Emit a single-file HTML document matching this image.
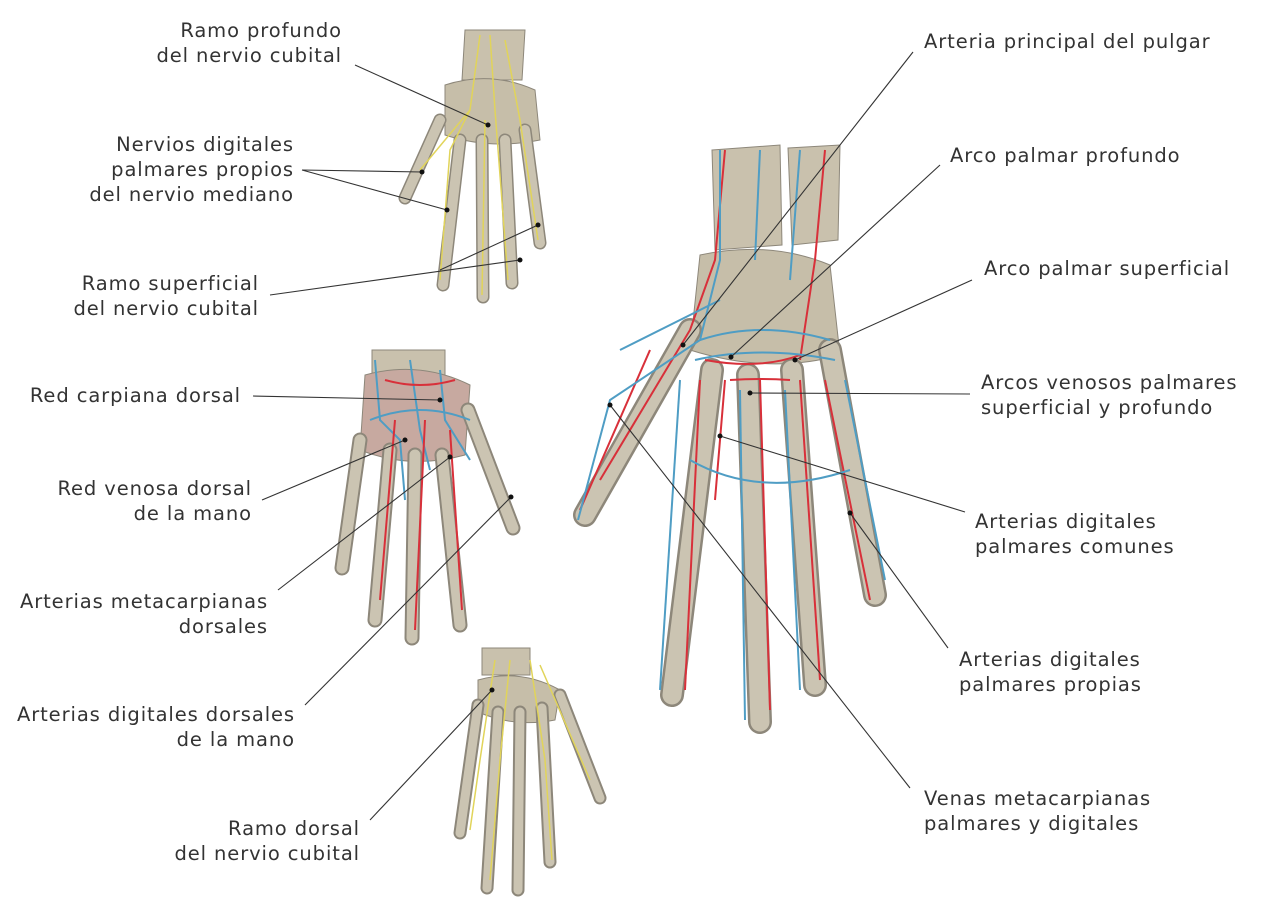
<!DOCTYPE html>
<html><head><meta charset="utf-8"><style>
html,body{margin:0;padding:0;background:#fff;}
svg{display:block}
text{font-family:"DejaVu Sans","Liberation Sans",sans-serif;font-size:19.5px;letter-spacing:0.9px;fill:#333;}
.r{text-anchor:end}
.ld{stroke:#333;stroke-width:1.1;fill:none}
.b{stroke:#cbc4b2;stroke-linecap:round;fill:none}
.bo{stroke:#8d877a;stroke-linecap:round;fill:none}
.a{stroke:#d8303a;fill:none;stroke-width:2}
.v{stroke:#4f9dc4;fill:none;stroke-width:2}
.n{stroke:#e1d45a;fill:none;stroke-width:1.5}
</style></head><body>
<svg width="1270" height="910" viewBox="0 0 1270 910">

<!-- TOP HAND -->
<g>
<path d="M465 30 L525 30 L522 80 L462 80 Z" fill="#c9c1ad" stroke="#8d877a"/>
<path d="M445 85 Q490 70 535 90 L540 140 Q490 150 445 135 Z" fill="#c6bea9" stroke="#8d877a"/>
<g class="bo" stroke-width="13">
<line x1="440" y1="120" x2="405" y2="198"/><line x1="460" y1="140" x2="443" y2="285"/><line x1="482" y1="140" x2="483" y2="297"/><line x1="505" y1="140" x2="512" y2="283"/><line x1="525" y1="130" x2="540" y2="243"/>
</g>
<g class="b" stroke-width="10">
<line x1="440" y1="120" x2="405" y2="198"/><line x1="460" y1="140" x2="443" y2="285"/><line x1="482" y1="140" x2="483" y2="297"/><line x1="505" y1="140" x2="512" y2="283"/><line x1="525" y1="130" x2="540" y2="243"/>
</g>
<g class="n"><path d="M480 35 L470 110 L450 150 L440 280"/><path d="M490 35 L495 110 L508 280"/><path d="M505 40 L520 120 L538 240"/><path d="M470 110 L420 170"/><path d="M485 120 L482 295"/></g>
</g>

<!-- MIDDLE LEFT HAND -->
<g>
<path d="M372 350 L445 350 L445 375 L372 375 Z" fill="#c9c1ad" stroke="#8d877a"/>
<path d="M365 375 Q420 360 470 385 L465 455 Q410 470 360 450 Z" fill="#c7a9a0" stroke="#8d877a"/>
<g class="bo" stroke-width="15">
<line x1="360" y1="440" x2="342" y2="568"/><line x1="390" y1="450" x2="375" y2="620"/><line x1="415" y1="455" x2="412" y2="638"/><line x1="442" y1="455" x2="460" y2="625"/><line x1="468" y1="410" x2="513" y2="528"/>
</g>
<g class="b" stroke-width="11">
<line x1="360" y1="440" x2="342" y2="568"/><line x1="390" y1="450" x2="375" y2="620"/><line x1="415" y1="455" x2="412" y2="638"/><line x1="442" y1="455" x2="460" y2="625"/><line x1="468" y1="410" x2="513" y2="528"/>
</g>
<g class="v" stroke-width="1.5"><path d="M375 360 L380 420 L400 440 L405 500"/><path d="M410 360 L420 430 L430 470"/><path d="M440 370 L445 420 L470 460"/><path d="M370 420 Q420 400 470 420"/></g>
<g class="a" stroke-width="1.2"><path d="M385 380 Q420 390 455 380"/><path d="M395 420 L380 600"/><path d="M425 420 L415 630"/><path d="M450 430 L462 610"/></g>
</g>

<!-- BOTTOM HAND -->
<g>
<path d="M482 648 L530 648 L530 675 L482 675 Z" fill="#c9c1ad" stroke="#8d877a"/>
<path d="M478 680 Q520 668 560 690 L555 720 Q515 728 478 712 Z" fill="#c6bea9" stroke="#8d877a"/>
<g class="bo" stroke-width="13">
<line x1="478" y1="705" x2="460" y2="833"/><line x1="498" y1="712" x2="487" y2="888"/><line x1="520" y1="712" x2="518" y2="890"/><line x1="542" y1="708" x2="550" y2="862"/><line x1="560" y1="695" x2="600" y2="798"/>
</g>
<g class="b" stroke-width="9">
<line x1="478" y1="705" x2="460" y2="833"/><line x1="498" y1="712" x2="487" y2="888"/><line x1="520" y1="712" x2="518" y2="890"/><line x1="542" y1="708" x2="550" y2="862"/><line x1="560" y1="695" x2="600" y2="798"/>
</g>
<g class="n"><path d="M495 660 L480 760 L470 830"/><path d="M510 660 L500 760 L490 880"/><path d="M530 660 L545 760 L552 860"/><path d="M540 665 L590 780"/></g>
</g>

<!-- LARGE HAND -->
<g>
<path d="M712 150 L780 145 L782 245 L715 250 Z" fill="#c9c1ad" stroke="#8d877a"/>
<path d="M788 148 L840 145 L838 240 L792 245 Z" fill="#c9c1ad" stroke="#8d877a"/>
<path d="M700 255 Q770 240 830 265 L840 355 Q770 375 690 350 Z" fill="#c6bea9" stroke="#8d877a"/>
<g class="bo" stroke-width="24">
<line x1="690" y1="330" x2="585" y2="515"/><line x1="712" y1="370" x2="672" y2="695"/><line x1="748" y1="375" x2="760" y2="722"/><line x1="792" y1="370" x2="815" y2="685"/><line x1="830" y1="350" x2="875" y2="595"/>
</g>
<g class="b" stroke-width="19">
<line x1="690" y1="330" x2="585" y2="515"/><line x1="712" y1="370" x2="672" y2="695"/><line x1="748" y1="375" x2="760" y2="722"/><line x1="792" y1="370" x2="815" y2="685"/><line x1="830" y1="350" x2="875" y2="595"/>
</g>
<g class="a"><path d="M725 150 L715 260 L690 330 L600 480"/><path d="M825 150 L815 260 L800 360"/><path d="M705 360 Q760 370 800 355"/><path d="M730 380 Q760 378 790 380"/><path d="M700 380 L685 690"/><path d="M725 380 L715 500"/><path d="M760 380 L770 710"/><path d="M800 380 L820 680"/><path d="M825 380 L870 600"/><path d="M650 350 L580 510"/></g>
<g class="v"><path d="M720 150 L720 260 L700 340 L610 400 L578 520"/><path d="M760 150 L755 260"/><path d="M800 150 L790 280"/><path d="M700 340 Q760 320 830 340"/><path d="M695 360 Q760 345 835 360"/><path d="M680 380 L660 690"/><path d="M740 390 L745 720"/><path d="M785 390 L800 690"/><path d="M845 380 L885 580"/><path d="M690 460 Q760 500 850 470"/><path d="M620 350 L720 300"/></g>
</g>

<!-- LEADER LINES -->
<g class="ld">
<line x1="355" y1="65" x2="488" y2="125"/>
<line x1="302" y1="170" x2="447" y2="210"/>
<line x1="302" y1="170" x2="422" y2="172"/>
<line x1="270" y1="295" x2="520" y2="260"/>
<line x1="440" y1="270" x2="538" y2="225"/>
<line x1="253" y1="396" x2="440" y2="400"/>
<line x1="262" y1="500" x2="405" y2="440"/>
<line x1="278" y1="590" x2="450" y2="457"/>
<line x1="305" y1="705" x2="511" y2="497"/>
<line x1="370" y1="820" x2="492" y2="690"/>
<line x1="913" y1="52" x2="683" y2="345"/>
<line x1="940" y1="165" x2="731" y2="357"/>
<line x1="972" y1="280" x2="795" y2="360"/>
<line x1="970" y1="394" x2="750" y2="393"/>
<line x1="965" y1="512" x2="720" y2="436"/>
<line x1="948" y1="648" x2="850" y2="513"/>
<line x1="910" y1="788" x2="610" y2="405"/>
</g>
<g fill="#111">
<circle cx="488" cy="125" r="2.5"/><circle cx="447" cy="210" r="2.5"/><circle cx="422" cy="172" r="2.5"/><circle cx="520" cy="260" r="2.5"/><circle cx="538" cy="225" r="2.5"/><circle cx="440" cy="400" r="2.5"/><circle cx="405" cy="440" r="2.5"/><circle cx="450" cy="457" r="2.5"/><circle cx="511" cy="497" r="2.5"/><circle cx="492" cy="690" r="2.5"/><circle cx="683" cy="345" r="2.5"/><circle cx="731" cy="357" r="2.5"/><circle cx="795" cy="360" r="2.5"/><circle cx="750" cy="393" r="2.5"/><circle cx="720" cy="436" r="2.5"/><circle cx="850" cy="513" r="2.5"/><circle cx="610" cy="405" r="2.5"/>
</g>

<!-- LABELS -->
<text class="r" x="342" y="37">Ramo profundo</text>
<text class="r" x="342" y="62">del nervio cubital</text>
<text class="r" x="294" y="151">Nervios digitales</text>
<text class="r" x="294" y="176">palmares propios</text>
<text class="r" x="294" y="201">del nervio mediano</text>
<text class="r" x="259" y="290">Ramo superficial</text>
<text class="r" x="259" y="315">del nervio cubital</text>
<text class="r" x="241" y="402">Red carpiana dorsal</text>
<text class="r" x="252" y="495">Red venosa dorsal</text>
<text class="r" x="252" y="520">de la mano</text>
<text class="r" x="268" y="608">Arterias metacarpianas</text>
<text class="r" x="268" y="633">dorsales</text>
<text class="r" x="295" y="721">Arterias digitales dorsales</text>
<text class="r" x="295" y="746">de la mano</text>
<text class="r" x="360" y="835">Ramo dorsal</text>
<text class="r" x="360" y="860">del nervio cubital</text>
<text x="924" y="48">Arteria principal del pulgar</text>
<text x="950" y="162">Arco palmar profundo</text>
<text x="984" y="275">Arco palmar superficial</text>
<text x="981" y="389">Arcos venosos palmares</text>
<text x="981" y="414">superficial y profundo</text>
<text x="975" y="528">Arterias digitales</text>
<text x="975" y="553">palmares comunes</text>
<text x="959" y="666">Arterias digitales</text>
<text x="959" y="691">palmares propias</text>
<text x="924" y="805">Venas metacarpianas</text>
<text x="924" y="830">palmares y digitales</text>
</svg>
</body></html>
